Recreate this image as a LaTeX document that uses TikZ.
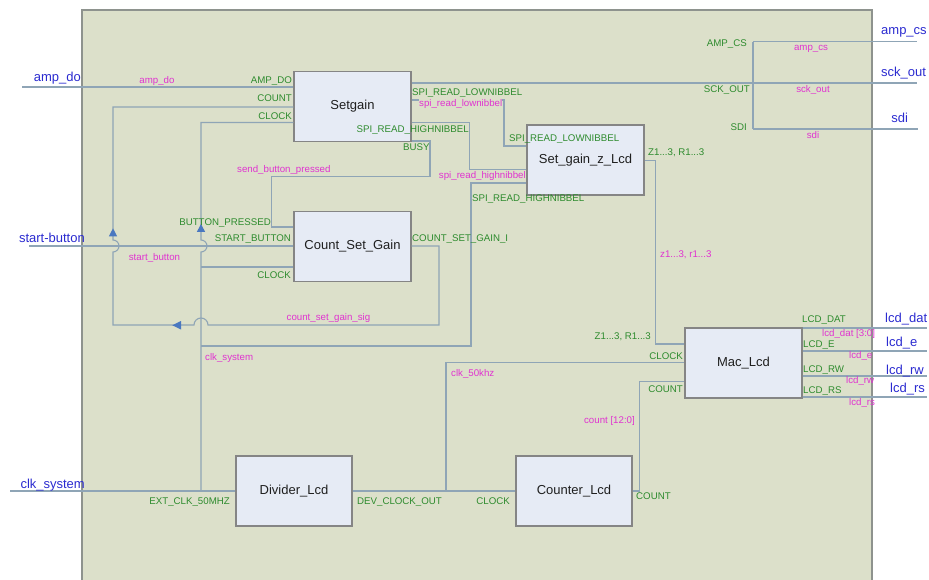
\documentclass[tikz,border=0pt]{standalone}
\usepackage{fontspec}
\setmainfont{Liberation Sans}
\definecolor{bgc}{HTML}{DCE0CA}
\definecolor{framec}{HTML}{8E938E}
\definecolor{wirec}{HTML}{8FA5B6}
\definecolor{boxfill}{HTML}{E6EBF5}
\definecolor{boxline}{HTML}{858585}
\definecolor{portc}{HTML}{2E8B2E}
\definecolor{netc}{HTML}{E033D0}
\definecolor{extc}{HTML}{2B2BD0}
\definecolor{arrowc}{HTML}{4A78C0}
\newcommand\portfont{\fontsize{9.7}{11}\selectfont}
\newcommand\namefont{\fontsize{13}{15}\selectfont}
\newcommand\extfont{\fontsize{13}{15}\selectfont}
\tikzset{
  block/.style={draw=boxline, fill=boxfill, line width=1.3pt, minimum width=117pt,
    minimum height=70pt, inner sep=0pt, font=\namefont, text=black!88},
  wire/.style={draw=wirec, line width=1.1pt},
  port/.style={text=portc, font=\portfont, inner sep=0pt},
  net/.style={text=netc, font=\portfont, inner sep=0pt},
  ext/.style={text=extc, font=\extfont, inner sep=0pt},
  marker/.style={fill=arrowc},
}
\begin{document}
\begin{tikzpicture}[x=1pt,y=-1pt]
\useasboundingbox (0,0) rectangle (929,580);
% sheet
\begin{scope}
\clip (0,0) rectangle (929,580);
\draw[fill=bgc, draw=framec, line width=1.6pt] (82,10) rectangle (871.7,600);
\end{scope}

% blocks
\node[block] (sg)  at (352.5,106.5) {Setgain};
\node[block] (sgz) at (585.5,160)   {Set\_gain\_z\_Lcd};
\node[block] (csg) at (352.5,246.5) {Count\_Set\_Gain};
\node[block] (mac) at (743.5,363)   {Mac\_Lcd};
\node[block, minimum width=116pt] (div) at (294,491) {Divider\_Lcd};
\node[block, minimum width=116pt] (cnt) at (574,491) {Counter\_Lcd};

% external terminals
\coordinate (x-ampdo) at (22,87);
\coordinate (x-start) at (29,246);
\coordinate (x-clk)   at (10,491);
\coordinate (x-ampcs) at (917,41.7);
\coordinate (x-sck)   at (917,83);
\coordinate (x-sdi)   at (918,129);
\coordinate (x-dat)   at (927,328);
\coordinate (x-e)     at (927,351);
\coordinate (x-rw)    at (927,376);
\coordinate (x-rs)    at (927,397);

% amp_do
\draw[wire] (x-ampdo) -- (sg.west |- 0,87);
% start-button
\draw[wire] (x-start) -- (csg.west |- 0,246);
% count_set_gain_sig (with jumps)
\draw[wire] (csg.east |- 0,246) -- (439,246) -- (439,325) -- (208,325)
  arc(0:-180:7) -- (113,325) -- (113,252) arc(90:-90:6) -- (113,107)
  -- (sg.west |- 0,107);
% clk_system
\draw[wire] (x-clk) -- (div.west);
\draw[wire] (201,491) -- (201,252) arc(90:-90:6) -- (201,122.5) -- (sg.west |- 0,122.5);
\draw[wire] (201,267) -- (csg.west |- 0,267);
\draw[wire] (201,346) -- (471,346) -- (471,183) -- (sgz.west |- 0,183);
% send_button_pressed
\draw[wire] (sg.east |- 0,141) -- (430,141) -- (430,176.7) -- (271.7,176.7)
  -- (271.7,227) -- (csg.west |- 0,227);
% sck_out / amp_cs / sdi
\draw[wire] (sg.east |- 0,83) -- (x-sck);
\draw[wire] (753,41.7) -- (753,129);
\draw[wire] (753,41.7) -- (x-ampcs);
\draw[wire] (753,129) -- (x-sdi);
% spi_read_lownibbel
\draw[wire] (sg.east |- 0,100) -- (504,100) -- (504,146) -- (sgz.west |- 0,146);
% spi_read_highnibbel
\draw[wire] (sg.east |- 0,122.5) -- (469.3,122.5) -- (469.3,169.3) -- (sgz.west |- 0,169.3);
% z1...3, r1...3
\draw[wire] (sgz.east |- 0,160.7) -- (655.5,160.7) -- (655.5,344) -- (mac.west |- 0,344);
% clk_50khz
\draw[wire] (div.east) -- (cnt.west);
\draw[wire] (446,491) -- (446,362.7) -- (mac.west |- 0,362.7);
% count [12:0]
\draw[wire] (cnt.east) -- (639.3,491) -- (639.3,381.7) -- (mac.west |- 0,381.7);
% lcd outputs
\draw[wire] (mac.east |- 0,328) -- (x-dat);
\draw[wire] (mac.east |- 0,351) -- (x-e);
\draw[wire] (mac.east |- 0,376) -- (x-rw);
\draw[wire] (mac.east |- 0,397) -- (x-rs);

% direction markers
\fill[marker] (108.8,236.5) -- (117.2,236.5) -- (113,228.3) -- cycle;
\fill[marker] (196.8,232) -- (205.2,232) -- (201,224) -- cycle;
\fill[marker] (181,321) -- (181,329.5) -- (172.3,325.3) -- cycle;

% port labels
\node[port, anchor=mid east] at (292,80.5)  {AMP\_DO};
\node[port, anchor=mid east] at (292,99)    {COUNT};
\node[port, anchor=mid east] at (292,117)   {CLOCK};
\node[port, anchor=mid west] at (412,92.5)  {SPI\_READ\_LOWNIBBEL};
\node[port, anchor=mid east] at (469,129.5) {SPI\_READ\_HIGHNIBBEL};
\node[port, anchor=mid west] at (403,148)   {BUSY};
\node[port, anchor=mid west] at (509,139)   {SPI\_READ\_LOWNIBBEL};
\node[port, anchor=mid west] at (472,199)   {SPI\_READ\_HIGHNIBBEL};
\node[port, anchor=mid west] at (648,152.5) {Z1...3, R1...3};
\node[port, anchor=mid east] at (271,222.5) {BUTTON\_PRESSED};
\node[port, anchor=mid east] at (291,239)   {START\_BUTTON};
\node[port, anchor=mid east] at (291,276)   {CLOCK};
\node[port, anchor=mid west] at (412,239)   {COUNT\_SET\_GAIN\_I};
\node[port, anchor=mid east] at (651,336.5) {Z1...3, R1...3};
\node[port, anchor=mid east] at (683,357)   {CLOCK};
\node[port, anchor=mid east] at (683,390)   {COUNT};
\node[port, anchor=mid west] at (802,320)   {LCD\_DAT};
\node[port, anchor=mid west] at (803,345)   {LCD\_E};
\node[port, anchor=mid west] at (803,370)   {LCD\_RW};
\node[port, anchor=mid west] at (803,391)   {LCD\_RS};
\node[port, anchor=mid east] at (747,44)    {AMP\_CS};
\node[port, anchor=mid east] at (750,90)    {SCK\_OUT};
\node[port, anchor=mid east] at (747,128)   {SDI};
\node[port, anchor=mid east] at (230,502)   {EXT\_CLK\_50MHZ};
\node[port, anchor=mid west] at (357,502)   {DEV\_CLOCK\_OUT};
\node[port, anchor=mid east] at (510,502)   {CLOCK};
\node[port, anchor=mid west] at (636,497)   {COUNT};

% net labels
\node[net, anchor=mid] at (157,80.5) {amp\_do};
\node[net, anchor=mid west, fill=bgc] at (419,103.5) {spi\_read\_lownibbel};
\node[net, anchor=mid west] at (237,169.5) {send\_button\_pressed};
\node[net, anchor=mid east] at (526,176) {spi\_read\_highnibbel};
\node[net, anchor=mid] at (154.5,257.5) {start\_button};
\node[net, anchor=mid] at (328.5,318) {count\_set\_gain\_sig};
\node[net, anchor=mid west] at (205,357.5) {clk\_system};
\node[net, anchor=mid west] at (451,374) {clk\_50khz};
\node[net, anchor=mid east] at (635,420.5) {count [12:0]};
\node[net, anchor=mid west] at (660,255) {z1...3, r1...3};
\node[net, anchor=mid] at (811,48) {amp\_cs};
\node[net, anchor=mid] at (813,90) {sck\_out};
\node[net, anchor=mid] at (813,136) {sdi};
\node[net, anchor=mid west] at (822,334) {lcd\_dat [3:0]};
\node[net, anchor=mid west] at (849,356) {lcd\_e};
\node[net, anchor=mid west] at (846,381) {lcd\_rw};
\node[net, anchor=mid west] at (849,403) {lcd\_rs};

% external port names
\node[ext, anchor=base east] at (81,82) {amp\_do};
\node[ext, anchor=base east] at (85,243) {start-button};
\node[ext, anchor=base east] at (85,488) {clk\_system};
\node[ext, anchor=base west] at (881,35) {amp\_cs};
\node[ext, anchor=base west] at (881,76.5) {sck\_out};
\node[ext, anchor=base] at (899.7,123) {sdi};
\node[ext, anchor=base west] at (885,322.5) {lcd\_dat};
\node[ext, anchor=base west] at (886,346.5) {lcd\_e};
\node[ext, anchor=base west] at (886,374) {lcd\_rw};
\node[ext, anchor=base west] at (890,392) {lcd\_rs};
\end{tikzpicture}
\end{document}
